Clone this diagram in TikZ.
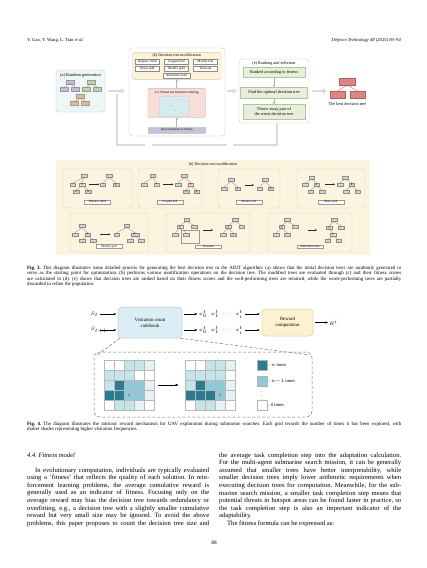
\documentclass[tikz,border=0pt]{standalone}
\usepackage{fontspec}
\setmainfont{Liberation Serif}
\usetikzlibrary{arrows.meta,calc}
\frenchspacing
\definecolor{aBlue}{HTML}{EEF6F8}
\definecolor{bYel}{HTML}{FDF3D9}
\definecolor{bYelD}{HTML}{D9CBA0}
\definecolor{cPink}{HTML}{F7DED8}
\definecolor{cPinkD}{HTML}{D8B0A8}
\definecolor{cImg}{HTML}{D6EBF2}
\definecolor{dPur}{HTML}{C8BFDD}
\definecolor{eGrn}{HTML}{E8EFD9}
\definecolor{eGrnD}{HTML}{B5C49B}
\definecolor{bestR}{HTML}{DB8585}
\definecolor{bestRD}{HTML}{B45E5E}
\definecolor{tPur}{HTML}{C9B9DE}
\definecolor{tGrn}{HTML}{BBD89C}
\definecolor{tOrg}{HTML}{F5B486}
\definecolor{lowY}{HTML}{FCF4DF}
\definecolor{lowYD}{HTML}{DDD3B8}
\definecolor{cbBlue}{HTML}{DCEEF5}
\definecolor{cbBlueD}{HTML}{A8CAD7}
\definecolor{rwY}{HTML}{FCF1D0}
\definecolor{rwYD}{HTML}{E0CD90}
\definecolor{gA}{HTML}{FFFFFF}
\definecolor{gB}{HTML}{E4F2F6}
\definecolor{gC}{HTML}{C6E4EC}
\definecolor{gD}{HTML}{8DCBD9}
\definecolor{gE}{HTML}{2C7C91}
\definecolor{dotc}{HTML}{9A8890}
\newcommand\fsz[2]{\fontsize{#1}{#2}\selectfont}
\newcommand\tredge[2]{\draw[te] (#1.south) -- (#2.north);}
\newcommand\jl[1]{\hbox to 182pt{#1}}
\newcommand\jlast[1]{\hbox to 182pt{#1\hfil}}
\newcommand\cl[1]{\hbox to 374pt{#1}}
\newcommand\cellgrid[3]{%
  \foreach \cols [count=\ri] in {#3} {
    \foreach \cc [count=\ci] in \cols {
      \filldraw[fill=\cc, draw=black!28, line width=0.3pt] ({#1+(\ci-1)*10},{#2+(\ri-1)*10}) rectangle ++(10,10);
    }
  }
}
\tikzset{
  panel/.style={draw=black!22, line width=0.4pt, rounded corners=3pt, inner sep=0pt},
  btn/.style={draw=black!45, fill=white, line width=0.25pt, inner sep=0pt, minimum width=24pt, minimum height=5pt, font=\fsz{3.4}{3.6}},
  ptitle/.style={inner sep=0pt, font=\fsz{3.6}{4}},
  pt/.style={draw=black!40, line width=0.25pt, inner sep=0pt, minimum width=8pt, minimum height=4pt},
  tb/.style={draw=black!45, fill=black!17, line width=0.25pt, inner sep=0pt, minimum width=5.5pt, minimum height=3pt, font=\fsz{2.3}{2.4}},
  tbr/.style={tb, fill=red!12, text=red!85!black},
  te/.style={draw=black!50, line width=0.25pt},
  sarr/.style={-{Stealth[length=2pt,width=1.8pt]}, line width=0.4pt, draw=black!85},
  lab/.style={draw=black!40, fill=white, line width=0.25pt, inner xsep=1.5pt, inner ysep=0.6pt, minimum width=26pt, font=\fsz{3.1}{3.3}},
  sp/.style={draw=lowYD, fill=lowY, line width=0.35pt, rounded corners=3pt, inner sep=0pt, minimum height=39pt},
  fat/.style={line width=1.8pt, draw=black!14, -{Triangle[length=4pt,width=5.5pt]}},
  loopl/.style={line width=1.8pt, draw=black!14},
  thinup/.style={line width=0.6pt, draw=black!30, -{Triangle[length=2pt,width=2.5pt]}},
  ebox/.style={fill=eGrn, draw=eGrnD, line width=0.3pt, inner sep=0pt, font=\fsz{4.3}{5}, align=center},
  farr/.style={-{Stealth[length=2.6pt,width=2.2pt]}, line width=0.45pt},
  xs/.style={inner sep=0pt, font=\fsz{5}{5}},
  ln/.style={draw=black!30, line width=0.3pt, minimum width=10pt, minimum height=10pt, inner sep=0pt},
  lt/.style={anchor=west, inner sep=0pt, font=\fsz{4.5}{5}}
}
\begin{document}
\begin{tikzpicture}[x=1pt,y=-1pt]
\useasboundingbox (0,0) rectangle (427,568);
\fill[white] (0,0) rectangle (427,568);

% ---------- header
\node[anchor=west, inner sep=0, font=\fsz{4.6}{5}] (hdl) at (27,40) {Y. Gao, Y. Wang, L. Tian \textit{et al.}};
\node[anchor=east, inner sep=0, font=\fsz{4.6}{5}\itshape] (hdr) at (401,40) {Defence Technology 48 (2025) 83--94};

% ---------- Fig 3 top: (a)
\node[panel, fill=aBlue, minimum width=49pt, minimum height=42pt] (pa) at (80.5,91) {};
\node[ptitle, font=\fsz{4.4}{4.6}] (pat) at (80.5,75) {(a) Random generation};
\node[pt, fill=tPur] (ap0) at (70,81.7) {};
\node[pt, fill=tPur] (ap1) at (64.5,89) {};
\node[pt, fill=tPur] (ap2) at (75.5,89) {};
\node[pt, fill=tGrn] (ag0) at (91.5,81.7) {};
\node[pt, fill=tGrn] (ag1) at (86,89) {};
\node[pt, fill=tGrn] (ag2) at (97,89) {};
\node[pt, fill=tOrg] (ao0) at (80,96.5) {};
\node[pt, fill=tOrg] (ao1) at (74.5,103.3) {};
\node[pt, fill=tOrg] (ao2) at (85.5,103.3) {};
\tredge{ap0}{ap1}\tredge{ap0}{ap2}\tredge{ag0}{ag1}\tredge{ag0}{ag2}\tredge{ao0}{ao1}\tredge{ao0}{ao2}
\node[inner sep=0, font=\fsz{3}{3}, text=black!50] (adots) at (80,108.3) {$\cdots\;\cdots$};

% main panel (b)-(d)
\node[panel, fill=white, minimum width=96pt, minimum height=88pt] (pm) at (177,92) {};
\node[panel, fill=bYel, draw=bYelD, minimum width=88.5pt, minimum height=27pt, rounded corners=2pt] (pb) at (176.75,65.8) {};
\node[ptitle, font=\fsz{4}{4.2}] (pbt) at (176.75,55.6) {(b) Decision tree modification};
\node[btn] (b1) at (147.5,61.8) {Replace child};
\node[btn] (b2) at (176.5,61.8) {Expand leaf};
\node[btn] (b3) at (205.5,61.8) {Modify leaf};
\node[btn] (b4) at (147.5,68.8) {Reset split};
\node[btn] (b5) at (176.5,68.8) {Modify split};
\node[btn] (b6) at (205.5,68.8) {Truncate};
\node[btn, minimum width=27pt] (b7) at (176.5,75.3) {Add inner node};
\node[panel, fill=cPink, draw=cPinkD, minimum width=57.5pt, minimum height=29.4pt, rounded corners=2pt] (pc) at (176.75,103) {};
\node[ptitle, font=\fsz{3.4}{3.6}] (pct) at (176.75,92.6) {(c) Virtual environment training};
\node[fill=cImg, draw=black!15, line width=0.2pt, minimum width=28.5pt, minimum height=20pt, inner sep=0] (pci) at (173.75,106) {};
\foreach \dx/\dy in {163/100,170/103,178/99.5,184/102,166/108,175/110.5,182/113,171/106.5,162/113}
  \fill[black!55] (\dx,\dy) circle (0.3pt);
\node[fill=dPur, draw=black!20, line width=0.25pt, minimum width=57.5pt, minimum height=6.3pt, inner sep=0, font=\fsz{3.2}{3.4}] (pd) at (176.75,130.2) {(d) Calculation of fitness};
\draw[thinup] (pc.north) -- (pb.south);
\draw[thinup] (pd.north) -- (pc.south);
\draw[fat, shorten <=3pt, shorten >=4pt] (pa.east) -- (pa.east -| pm.west);

% (e)
\node[panel, fill=white, minimum width=70pt, minimum height=64pt] (pe) at (274,91) {};
\node[ptitle, font=\fsz{4.2}{4.4}] (pet) at (274,63) {(e) Ranking and selection};
\node[ebox, minimum width=62pt, minimum height=10pt] (e1) at (274,72) {Ranked according to fitness};
\node[ebox, minimum width=67pt, minimum height=11pt] (e2) at (274,92.5) {Find the optimal decision tree};
\node[ebox, minimum width=62pt, minimum height=15pt] (e3) at (274,111.8) {Throw away part of\\the worst decision tree};
\draw[thinup] (e1.south) -- (e2.north);
\draw[thinup] (e2.south) -- (e3.north);
\draw[fat, shorten <=2pt, shorten >=2pt] (pm.east |- pe.west) -- (pe.west);

% best tree
\node[fill=bestR, draw=bestRD, line width=0.3pt, minimum width=16pt, minimum height=7.5pt, inner sep=0] (bt0) at (347.5,81.5) {};
\node[fill=bestR, draw=bestRD, line width=0.3pt, minimum width=15pt, minimum height=7pt, inner sep=0] (bt1) at (337.5,94.5) {};
\node[fill=bestR, draw=bestRD, line width=0.3pt, minimum width=15pt, minimum height=7pt, inner sep=0] (bt2) at (357.5,94.5) {};
\draw[draw=bestRD, line width=0.3pt] (bt0.south) -- (bt1.north);
\draw[draw=bestRD, line width=0.3pt] (bt0.south) -- (bt2.north);
\node[inner sep=0, font=\fsz{4.3}{5}] (btl) at (347.5,104.5) {The best decision tree};
\coordinate (btin) at (327,91);
\draw[fat, shorten <=3pt] (pe.east) -- (btin);

% feedback loop
\coordinate (lpA) at (117,145);
\coordinate (lpB) at (277,145);
\coordinate (lpC) at (233,145);
\coordinate (lpD) at (227,145);
\coordinate (lpE) at (152,145);
\coordinate (lpF) at (145,145);
\coordinate (lpG) at (117,94);
\draw[loopl] (pe.south -| lpB) -- (lpB) -- (lpC);
\draw[loopl] (lpD) -- (lpE);
\draw[loopl] (lpF) -- (lpA) -- (lpG);

% ---------- Fig 3 lower panel
\node[fill=lowY, minimum width=314pt, minimum height=95pt, inner sep=0] (pB) at (213,207.5) {};
\node[inner sep=0, font=\fsz{4}{4.5}] (pBt) at (213,164.5) {(b) Decision tree modification};
\node[sp, minimum width=69pt] (s1) at (97.5,188.5) {};
\node[sp, minimum width=64pt] (s2) at (170,188.5) {};
\node[sp, minimum width=62pt] (s3) at (249,188.5) {};
\node[sp, minimum width=68pt] (s4) at (331,188.5) {};
\node[sp, minimum width=78pt] (s5) at (109,232.5) {};
\node[sp, minimum width=84pt] (s6) at (208,232.5) {};
\node[sp, minimum width=84pt] (s7) at (310,232.5) {};

% s1 replace child
\node[tb] (r1a) at (84,176) {};
\node[tb] (r1b) at (72.5,184.3) {};
\node[tbr] (r1c) at (82,184.3) {$\star$};
\node[tb] (r1d) at (76,191.7) {A};
\node[tb] (r1e) at (88.3,191.7) {B};
\tredge{r1a}{r1b}\tredge{r1a}{r1c}\tredge{r1c}{r1d}\tredge{r1c}{r1e}
\node[tb] (r1f) at (109.3,176) {};
\node[tb] (r1g) at (102.7,184.3) {};
\node[tb] (r1h) at (116,184.3) {B};
\tredge{r1f}{r1g}\tredge{r1f}{r1h}
\coordinate (r1p) at (89.3,184.3); \coordinate (r1q) at (99.3,184.3);
\draw[sarr] (r1p) -- (r1q);
\node[lab] (r1l) at (97.5,201.7) {Replace child};

% s2 expand leaf
\node[tb] (r2a) at (152.7,176) {};
\node[tb] (r2b) at (144.3,184.3) {};
\node[tbr] (r2c) at (156.7,184.3) {$\star$};
\tredge{r2a}{r2b}\tredge{r2a}{r2c}
\node[tb] (r2d) at (184.3,176) {};
\node[tb] (r2e) at (178.3,184.3) {};
\node[tbr] (r2f) at (190.8,184.3) {$\star$};
\node[tb] (r2g) at (186,191.7) {A};
\node[tb] (r2h) at (196.7,191.7) {B};
\tredge{r2d}{r2e}\tredge{r2d}{r2f}\tredge{r2f}{r2g}\tredge{r2f}{r2h}
\coordinate (r2p) at (163,184.3); \coordinate (r2q) at (173.5,184.3);
\draw[sarr] (r2p) -- (r2q);
\node[lab] (r2l) at (170,201.7) {Expand leaf};

% s3 modify leaf
\node[tb] (r3a) at (231,180) {};
\node[tb] (r3b) at (224,188.3) {};
\node[tb] (r3c) at (237.5,188.3) {A};
\tredge{r3a}{r3b}\tredge{r3a}{r3c}
\node[tb] (r3d) at (265,180) {};
\node[tb] (r3e) at (259.5,188.3) {};
\node[tb] (r3f) at (270.8,188.3) {B};
\tredge{r3d}{r3e}\tredge{r3d}{r3f}
\coordinate (r3p) at (245,185); \coordinate (r3q) at (254,185);
\draw[sarr] (r3p) -- (r3q);
\node[lab] (r3l) at (249,201.7) {Modify leaf};

% s4 reset split
\node[tb] (r4a) at (311.7,177.7) {};
\node[tb] (r4b) at (305.3,184.3) {};
\node[tb] (r4c) at (316.5,184.3) {A};
\node[tb] (r4d) at (310.5,191.7) {};
\node[tb] (r4e) at (322,191.7) {};
\tredge{r4a}{r4b}\tredge{r4a}{r4c}\tredge{r4c}{r4d}\tredge{r4c}{r4e}
\node[tb] (r4f) at (345,177.7) {};
\node[tb] (r4g) at (340,184.3) {};
\node[tb] (r4h) at (351.7,184.3) {B};
\node[tb] (r4i) at (346,191.7) {};
\node[tb] (r4j) at (357.5,191.7) {};
\tredge{r4f}{r4g}\tredge{r4f}{r4h}\tredge{r4h}{r4i}\tredge{r4h}{r4j}
\coordinate (r4p) at (324.7,184.3); \coordinate (r4q) at (335,184.3);
\draw[sarr] (r4p) -- (r4q);
\node[lab] (r4l) at (331,201.7) {Reset split};

% s5 modify split
\node[tb] (r5a) at (82,226) {};
\node[tb] (r5b) at (75,234.3) {};
\node[tb] (r5c) at (87.5,234.3) {a|b};
\node[tb] (r5d) at (82,241) {};
\node[tb] (r5e) at (93,241) {};
\tredge{r5a}{r5b}\tredge{r5a}{r5c}\tredge{r5c}{r5d}\tredge{r5c}{r5e}
\node[tb] (r5f) at (126.7,226) {};
\node[tb] (r5g) at (116.7,234.3) {};
\node[tb, minimum width=8pt] (r5h) at (135,234.3) {a|b|c};
\node[tb] (r5i) at (130,241) {};
\node[tb] (r5j) at (141,241) {};
\tredge{r5f}{r5g}\tredge{r5f}{r5h}\tredge{r5h}{r5i}\tredge{r5h}{r5j}
\coordinate (r5p) at (100,234.3); \coordinate (r5q) at (110.5,234.3);
\draw[sarr] (r5p) -- (r5q);
\node[lab] (r5l) at (109,246.5) {Modify split};

% s6 truncate
\node[tb] (r6a) at (186.7,220) {};
\node[tbr] (r6b) at (180,227) {$\star$};
\node[tb] (r6c) at (194,227) {};
\node[tb] (r6d) at (175,234.3) {};
\node[tb] (r6e) at (186,234.3) {};
\tredge{r6a}{r6b}\tredge{r6a}{r6c}\tredge{r6b}{r6d}\tredge{r6b}{r6e}
\node[draw=black!40, line width=0.25pt, minimum width=18pt, minimum height=13pt, inner sep=0] (r6x) at (190.5,236.8) {};
\node[tb] (r6f) at (235,220) {};
\node[tbr] (r6g) at (228.3,227) {$\star$};
\node[tb] (r6h) at (241.7,227) {};
\node[tb] (r6i) at (223.3,234.3) {};
\node[tb] (r6j) at (233.3,234.3) {A};
\tredge{r6f}{r6g}\tredge{r6f}{r6h}\tredge{r6g}{r6i}\tredge{r6g}{r6j}
\coordinate (r6p) at (203,230); \coordinate (r6q) at (213,230);
\draw[sarr] (r6p) -- (r6q);
\node[lab] (r6l) at (208.3,246.5) {Truncate};

% s7 add inner node
\node[tb] (r7a) at (287.3,220) {};
\node[tbr] (r7b) at (281.7,227) {$\star$};
\node[tb] (r7c) at (295,227) {};
\node[tb] (r7d) at (276,234.3) {};
\node[tb] (r7e) at (287.3,234.3) {};
\tredge{r7a}{r7b}\tredge{r7a}{r7c}\tredge{r7b}{r7d}\tredge{r7b}{r7e}
\node[tb] (r7f) at (334,220) {};
\node[tb] (r7g) at (329,227.3) {A};
\node[tb] (r7h) at (341,227.3) {};
\node[tbr] (r7i) at (333,234.3) {$\star$};
\node[tb] (r7j) at (327.5,241) {};
\node[tb] (r7k) at (338.5,241) {};
\tredge{r7f}{r7g}\tredge{r7f}{r7h}\tredge{r7g}{r7i}\tredge{r7i}{r7j}\tredge{r7i}{r7k}
\coordinate (r7p) at (308,230); \coordinate (r7q) at (317,230);
\draw[sarr] (r7p) -- (r7q);
\node[lab] (r7l) at (310,246.5) {Add inner node};

% ---------- Fig 3 caption
\node[anchor=north west, inner sep=0] (cap3) at (27,266) {\vbox{\fsz{4.9}{5.2}%
\cl{\textbf{Fig. 3.} This diagram illustrates some detailed process for generating the best decision tree in the AIDT algorithm: (a) shows that the initial decision trees are randomly generated to}
\cl{serve as the starting point for optimization. (b) performs various modification operations on the decision tree. The modified trees are evaluated through (c) and their fitness scores}
\cl{are calculated in (d). (e) shows that decision trees are ranked based on their fitness scores and the well-performing trees are retained, while the worst-performing trees are partially}
\cl{discarded to refine the population.\hfil}}};

% ---------- Fig 4
\coordinate (sx) at (100,0);
\node[xs, anchor=west] (st) at (90.5,314) {$S_t$};
\node[xs, anchor=west] (st1) at (90.5,330) {$S_{t+1}$};
\node[fill=cbBlue, draw=cbBlueD, line width=0.5pt, rounded corners=4pt, minimum width=64pt, minimum height=31pt, inner sep=0, align=center, font=\fsz{4.8}{6}] (cb) at (150,322.5) {Visitation count\\codebook};
\draw[farr, shorten >=1.5pt] (st.east -| sx) -- (st.east -| cb.west);
\draw[farr, shorten >=1.5pt] (st1.east -| sx) -- (st1.east -| cb.west);
\node[xs] (x10) at (203,314) {$x^{t}_{0}$};
\node[xs] (x11) at (215,314) {$x^{t}_{1}$};
\node[xs] (x1d) at (227,314) {$\cdots$};
\node[xs] (x1i) at (239,314) {$x^{t}_{i}$};
\node[xs] (x20) at (203,330) {$x^{t}_{0}$};
\node[xs] (x21) at (215,330) {$x^{t}_{1}$};
\node[xs] (x2d) at (227,330) {$\cdots$};
\node[xs] (x2i) at (239,330) {$x^{t}_{i}$};
\node[fill=rwY, draw=rwYD, line width=0.5pt, rounded corners=4pt, minimum width=51pt, minimum height=27pt, inner sep=0, align=center, font=\fsz{4.8}{6}] (rw) at (287.5,322.5) {Reward\\computation};
\draw[farr, shorten <=2pt, shorten >=1.5pt] (cb.east |- x10.west) -- (x10.west);
\draw[farr, shorten <=2pt, shorten >=1.5pt] (cb.east |- x20.west) -- (x20.west);
\draw[farr, shorten <=2pt, shorten >=2pt] (x1i.east) -- (x1i.east -| rw.west);
\draw[farr, shorten <=2pt, shorten >=2pt] (x2i.east) -- (x2i.east -| rw.west);
\node[xs, anchor=west] (Ri) at (329,322.5) {$R^{i}$};
\draw[farr, shorten <=2pt, shorten >=1pt] (rw.east) -- (Ri.west);

\node[draw=black!55, dash pattern=on 3pt off 2pt, line width=0.5pt, rounded corners=6pt, minimum width=218pt, minimum height=65pt, inner sep=0] (db) at (203,384.5) {};
\draw[draw=black!55, dash pattern=on 3pt off 2pt, line width=0.5pt] ($(cb.south west)+(2,0)$) -- ($(db.north west)+(4,3)$);
\draw[draw=black!55, dash pattern=on 3pt off 2pt, line width=0.5pt] ($(cb.south east)+(-2,0)$) -- ($(db.north east)+(-4,3)$);

\cellgrid{104}{360}{{gA,gA,gC,gC,gB},{gC,gC,gC,gA,gA},{gC,gE,gD,gD,gB},{gE,gE,gD,gD,gB},{gA,gC,gC,gB,gA}}
\cellgrid{185}{360}{{gA,gA,gC,gC,gB},{gC,gC,gC,gC,gA},{gC,gE,gD,gD,gB},{gE,gE,gE,gD,gB},{gA,gC,gC,gB,gA}}
\fill[dotc] (129,395) circle (1.5pt);
\fill[dotc] (220,395) circle (1.5pt);
\node[minimum size=50pt, inner sep=0] (g1) at (129,385) {};
\node[minimum size=50pt, inner sep=0] (g2) at (210,385) {};
\draw[-{Latex[length=3.2pt,width=2.6pt]}, line width=0.5pt, shorten <=4pt, shorten >=6pt] (g1.east) -- (g2.west);

\node[ln, fill=gE] (l1) at (262,365.5) {};
\node[lt] (l1t) at (268.5,365.5) {: $n$ times};
\node[ln, fill=gD] (l2) at (262,381) {};
\node[lt] (l2t) at (268.5,381) {: $n{-}1$ times};
\node[inner sep=0, font=\fsz{4.5}{5}] (ld) at (262,393) {$\vdots$};
\node[ln, fill=white] (l3) at (262,405) {};
\node[lt] (l3t) at (268.5,405) {: 0 times};

% ---------- Fig 4 caption
\node[anchor=north west, inner sep=0] (cap4) at (27,421.5) {\vbox{\fsz{4.9}{5.4}%
\cl{\textbf{Fig. 4.} The diagram illustrates the intrinsic reward mechanism for UAV exploration during submarine searches. Each grid records the number of times it has been explored, with}
\cl{darker shades representing higher visitation frequencies.\hfil}}};

% ---------- body text
\node[anchor=west, inner sep=0, font=\fsz{6.5}{7.5}\itshape] (h44) at (27,455) {4.4. Fitness model};
\node[anchor=north west, inner sep=0] (colL) at (27,467.5) {\vbox{\fsz{6.6}{7.56}%
\jl{\kern8pt In evolutionary computation, individuals are typically evaluated}
\jl{using a ‘fitness’ that reflects the quality of each solution. In rein-}
\jl{forcement learning problems, the average cumulative reward is}
\jl{generally used as an indicator of fitness. Focusing only on the}
\jl{average reward may bias the decision tree towards redundancy or}
\jl{overfitting, e.g., a decision tree with a slightly smaller cumulative}
\jl{reward but very small size may be ignored. To avoid the above}
\jl{problems, this paper proposes to count the decision tree size and}}};
\node[anchor=north west, inner sep=0] (colR) at (219,452.5) {\vbox{\fsz{6.6}{7.56}%
\jl{the average task completion step into the adaptation calculation.}
\jl{For the multi-agent submarine search mission, it can be generally}
\jl{assumed that smaller trees have better interpretability, while}
\jl{smaller decision trees imply lower arithmetic requirements when}
\jl{executing decision trees for computation. Meanwhile, for the sub-}
\jl{marine search mission, a smaller task completion step means that}
\jl{potential threats in hotspot areas can be found faster in practice, so}
\jl{the task completion step is also an important indicator of the}
\jlast{adaptability.}
\jlast{\kern8pt The fitness formula can be expressed as:}}};
\node[inner sep=0, font=\fsz{5.3}{6}] (pg) at (214,543) {88};
\end{tikzpicture}
\end{document}
